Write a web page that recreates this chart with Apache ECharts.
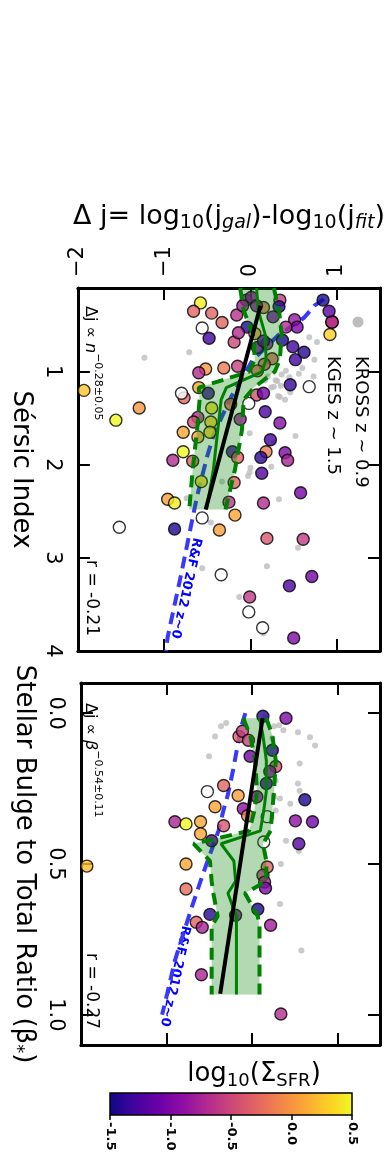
<!DOCTYPE html>
<html>
<head>
<meta charset="utf-8">
<script src="https://cdn.jsdelivr.net/npm/echarts@6/dist/echarts.min.js"></script>
<style>
  html, body { margin: 0; padding: 0; background: #fff; }
  #chart { width: 387px; height: 1156px; }
</style>
</head>
<body>
<div id="chart"></div>
<script>
// ---------- axis ticks ----------
const deltaJTicks = [-2, -1, 0, 1];
const sersicTicks = [1, 2, 3, 4];
const bulgeTicks = [0, 0.5, 1.0];
const sfrTicks = [-1.5, -1.0, -0.5, 0.0, 0.5];

// plasma colour map used for log10(Sigma_SFR)
const plasmaStops = ['#0d0887', '#41049d', '#6a00a8', '#8f0da4', '#b12a90', '#cc4778',
                     '#e16462', '#f2844b', '#fca636', '#fcce25', '#f0f921'];

// ---------- Sérsic-index panel ----------
// KGES galaxies: [delta j, Sérsic n, log10 Sigma_SFR]
const kgesSersic = [
  [-0.58,0.26,0.45],[-0.66,0.35,-0.30],[-0.45,0.37,-0.30],[-0.33,0.47,-0.30],[-0.48,0.64,-1.30],
  [-0.16,0.39,-0.65],[-0.05,0.23,-0.80],[0.01,0.20,-0.90],[0.15,0.31,-0.25],[-0.04,0.52,-1.45],
  [-0.19,0.68,-0.50],[0.34,0.23,-0.60],[0.33,0.30,-1.40],[0.26,0.41,-1.00],[0.51,0.44,-0.85],
  [0.54,0.52,-1.00],[0.41,0.52,-0.70],[0.37,0.66,-1.45],[0.49,0.73,-1.30],[0.62,0.79,-1.40],
  [0.52,0.87,-1.30],[0.84,0.23,-1.45],[0.91,0.35,-1.20],[0.92,0.60,0.30],[0.46,1.14,-1.35],
  [-0.52,0.97,0.00],[-0.31,0.96,-0.15],[-0.60,1.01,-0.70],[-0.15,0.94,-0.55],[-0.60,1.17,0.10],
  [-0.77,1.28,-0.30],[-0.49,1.23,-1.30],[0.07,1.25,-0.45],[0.15,1.23,-1.05],[0.17,1.43,-1.25],
  [0.34,1.55,-0.95],[-0.61,1.49,-0.65],[-0.66,1.54,-0.45],[-0.78,1.65,0.10],[-0.61,1.70,0.10],
  [-0.45,1.39,0.40],[-0.46,1.54,0.30],[-0.47,1.65,0.30],[-0.78,1.86,0.50],[-0.67,1.96,-0.35],
  [-0.90,1.95,-0.70],[-1.93,1.20,0.25],[-1.29,1.39,0.00],[-1.56,1.52,0.50],[0.23,1.73,-1.30],
  [0.18,1.86,-0.15],[0.12,1.92,-1.40],[0.40,1.87,-1.00],[0.43,1.95,-0.75],[0.13,2.09,-1.25],
  [-0.21,1.86,-1.30],[-0.15,1.92,-0.30],[-0.19,2.19,-0.30],[-0.57,2.18,0.35],[0.58,2.30,-1.05],
  [0.15,2.41,-0.70],[-0.25,2.40,-0.65],[-0.96,2.37,0.05],[-0.88,2.41,0.45],[-0.18,2.54,0.10],
  [-0.88,2.69,-1.45],[-0.36,2.70,0.05],[0.19,2.79,-0.40],[0.61,2.80,-0.60],[0.71,3.20,-1.05],
  [0.45,3.30,-1.25],[-0.01,3.42,-0.60],[0.50,3.86,-1.00],[-0.09,0.29,-0.80],[0.07,0.29,-0.90],
  [-0.14,0.58,-0.70],[0.05,0.59,0.00],[0.08,0.74,-1.00],[0.19,0.70,-0.90],[0.25,0.86,-0.30],
  [0.16,0.92,-0.35],[0.08,0.99,-0.30],[-0.23,1.35,-0.30],[-0.12,1.51,-0.80],[0.15,0.67,-1.20]
];
// KGES galaxies without a Sigma_SFR measurement: [delta j, n]
const kgesSersicNoSfr = [
  [-0.56,0.53],[0.68,1.16],[-0.80,1.23],[-0.02,1.34],[-0.56,2.57],[-1.52,2.67],
  [-0.34,3.18],[-0.02,3.58],[0.14,3.75]
];
// KROSS z~0.9 comparison sample: [delta j, n]
const krossSersic = [
  [-0.71,0.79],[-1.23,0.85],[0.68,0.63],[0.77,0.68],[0.74,0.87],[0.60,0.96],[0.73,1.05],
  [0.56,1.02],[0.41,0.99],[0.45,1.06],[0.29,1.09],[0.35,1.15],[0.24,1.17],[0.34,1.27],
  [0.17,1.09],[0.52,1.69],[-0.01,1.66],[0.24,2.02],[-0.03,2.12],[0.33,2.37],[0.55,2.89],
  [0.19,3.09],[-0.56,3.11],[-0.13,3.42],[0.15,3.81],[0.20,1.05],[0.27,1.16],[0.31,1.10],
  [0.36,1.03],[0.32,1.26],[0.15,0.73],[0.00,2.03],[-0.01,2.08],[0.27,1.76],[-0.33,2.18],
  [-0.74,2.36],[-0.46,2.62],[0.40,1.30],[0.10,1.20],[0.46,1.22]
];
// running median and 1-sigma spread of the KGES points
const sersicBandN   = [0.10, 0.34, 0.60, 0.87, 1.00, 1.17, 1.30, 1.63, 2.05, 2.48];
const sersicBandLo  = [-0.12,-0.08, 0.03, 0.05,-0.02,-0.60,-0.59,-0.62,-0.67,-0.71];
const sersicBandMed = [0.07, 0.09, 0.17, 0.18, 0.13,-0.28,-0.34,-0.38,-0.43,-0.51];
const sersicBandHi  = [0.27, 0.33, 0.36, 0.34, 0.28, 0.04,-0.08,-0.10,-0.18,-0.29];
// best-fit power law, end points [delta j, n]
const sersicFit = [[0.115, 0.29], [-0.52, 2.48]];
// Romanowsky & Fall (2012) z~0 relation: [delta j, n]
const rfSersic = [
  [0.85,0.22],[0.74,0.29],[0.62,0.42],[0.33,0.60],[0.02,0.88],[-0.23,1.28],[-0.42,1.66],
  [-0.50,1.90],[-0.62,2.34],[-0.73,2.84],[-0.80,3.16],[-0.96,3.85],[-0.98,4.0]
];

// ---------- bulge-to-total panel ----------
// KGES galaxies: [delta j, B/T, log10 Sigma_SFR]
const kgesBulge = [
  [0.40,0.017,-1.00],[-0.15,0.077,-0.35],[-0.11,0.060,-0.55],[-0.04,0.090,-0.55],[-0.02,0.143,-1.05],
  [0.24,0.123,-1.40],[0.28,0.177,-0.45],[0.21,0.193,-0.90],[0.17,0.233,-1.30],[-0.33,0.240,-0.30],
  [-0.16,0.273,0.05],[-0.43,0.310,0.10],[-0.10,0.317,-0.90],[-0.05,0.340,-0.10],[0.62,0.287,-1.45],
  [-0.90,0.360,-0.75],[-0.77,0.367,0.50],[-0.60,0.360,0.10],[-0.60,0.400,0.10],[-0.33,0.373,-0.40],
  [0.51,0.357,-0.90],[0.71,0.360,-1.05],[-0.47,0.423,-1.25],[0.55,0.433,-1.20],[-0.77,0.500,0.10],
  [0.18,0.510,-0.30],[-1.93,0.507,0.20],[-0.77,0.583,-0.25],[0.13,0.537,-0.55],[0.15,0.560,-0.75],
  [0.16,0.580,-1.00],[0.07,0.650,-1.45],[-0.49,0.667,-1.40],[-0.19,0.670,-0.95],[-0.65,0.693,-0.30],
  [-0.58,0.710,-0.75],[0.22,0.703,-0.80],[-0.59,0.867,-0.75],[0.34,0.997,-0.70],[0.13,0.010,-1.40],
  [0.06,0.277,-0.90]
];
const kgesBulgeNoSfr = [[-0.52,0.26],[0.18,0.343],[0.14,0.427]];
const krossBulge = [
  [-0.30,0.033],[-0.36,0.043],[-0.43,0.077],[-0.50,0.143],[0.54,0.063],[0.68,0.080],[0.74,0.107],
  [0.56,0.167],[0.54,0.233],[0.56,0.257],[0.45,0.300],[0.33,0.283],[0.28,0.223],[0.40,0.423],
  [0.32,0.040],[0.37,0.057],[0.15,0.010],[0.34,0.500],[0.33,0.633],[0.58,0.787],[0.55,0.457],
  [0.28,0.323],[0.24,0.083],[0.26,0.043],[0.26,0.277]
];
const bulgeBandB   = [0.017,0.073,0.157,0.257,0.323,0.390,0.433,0.490,0.557,0.597,0.673,0.707,0.933];
const bulgeBandLo  = [-0.10,-0.02, 0.04, 0.06, 0.03,-0.03,-0.68,-0.49,-0.47,-0.45,-0.40,-0.47,-0.47];
const bulgeBandMed = [0.09, 0.13, 0.17, 0.17, 0.14, 0.10,-0.36,-0.21,-0.19,-0.28,-0.18,-0.18,-0.18];
const bulgeBandHi  = [0.17, 0.24, 0.28, 0.26, 0.24, 0.22, 0.13, 0.17, 0.17,-0.08, 0.07, 0.09, 0.09];
const bulgeFit = [[0.126, 0.017], [-0.37, 0.93]];
const rfBulge = [
  [-0.075,0.0],[-0.13,0.05],[-0.22,0.19],[-0.28,0.27],[-0.33,0.32],[-0.39,0.39],[-0.53,0.50],
  [-0.58,0.54],[-0.71,0.65],[-0.80,0.73],[-0.90,0.82],[-0.99,0.93],[-1.05,1.0]
];

// ---------- styling helpers ----------
const FONT = 'DejaVu Sans';
const GREEN = '#008000';
const frameLine = { onZero: false, lineStyle: { color: '#000', width: 3 } };
const inTick = (vals) => ({ inside: true, length: 12, customValues: vals, lineStyle: { color: '#000', width: 2 } });
const minus = (v) => String(v).replace('-', '\u2212');

function pairs(ys, xs) { return ys.map((y, i) => [xs[i], y]); }

function bandSeries(xi, yi, ys, lo, hi) {
  return {
    type: 'custom', xAxisIndex: xi, yAxisIndex: yi, z: 4, clip: true, silent: true,
    data: [0],
    renderItem: (params, api) => {
      const pts = [];
      for (let i = 0; i < ys.length; i++) pts.push(api.coord([lo[i], ys[i]]));
      for (let i = ys.length - 1; i >= 0; i--) pts.push(api.coord([hi[i], ys[i]]));
      return { type: 'polygon', shape: { points: pts }, style: { fill: 'rgba(0,128,0,0.3)' } };
    }
  };
}
function lineSeries(xi, yi, data, style, z) {
  return { type: 'line', xAxisIndex: xi, yAxisIndex: yi, data, symbol: 'none', z, clip: true,
           silent: true, lineStyle: style };
}
function scatter(xi, yi, data, opts) {
  return Object.assign({ type: 'scatter', xAxisIndex: xi, yAxisIndex: yi, data, silent: true }, opts);
}

function panelSeries(xi, yi, kges, kgesOpen, kross, bandY, lo, med, hi, fit, rf) {
  return [
    scatter(xi, yi, kross, { symbolSize: 6, itemStyle: { color: '#bdbdbd' }, z: 1 }),
    lineSeries(xi, yi, rf, { color: '#3838ff', width: 4, type: [12, 7] }, 2),
    scatter(xi, yi, kges, { symbolSize: 12, itemStyle: { borderColor: '#000', borderWidth: 1.4 }, z: 3 }),
    scatter(xi, yi, kgesOpen, { symbolSize: 12, itemStyle: { color: '#fff', borderColor: '#000', borderWidth: 1.4 }, z: 3 }),
    bandSeries(xi, yi, bandY, lo, hi),
    lineSeries(xi, yi, pairs(bandY, lo), { color: GREEN, width: 4, type: [12, 7] }, 5),
    lineSeries(xi, yi, pairs(bandY, hi), { color: GREEN, width: 4, type: [12, 7] }, 5),
    lineSeries(xi, yi, pairs(bandY, med), { color: GREEN, width: 3 }, 5),
    lineSeries(xi, yi, fit, { color: '#000', width: 4 }, 6)
  ];
}

const series = [
  ...panelSeries(0, 0, kgesSersic, kgesSersicNoSfr, krossSersic,
                 sersicBandN, sersicBandLo, sersicBandMed, sersicBandHi, sersicFit, rfSersic),
  ...panelSeries(2, 2, kgesBulge, kgesBulgeNoSfr, krossBulge,
                 bulgeBandB, bulgeBandLo, bulgeBandMed, bulgeBandHi, bulgeFit, rfBulge),
  {
    // colour bar
    type: 'custom', xAxisIndex: 4, yAxisIndex: 4, silent: true, data: [0],
    renderItem: (params, api) => {
      const p0 = api.coord([sfrTicks[0], 1]);
      const p1 = api.coord([sfrTicks[sfrTicks.length - 1], 0]);
      return {
        type: 'rect',
        shape: { x: p0[0], y: p0[1], width: p1[0] - p0[0], height: p1[1] - p0[1] },
        style: {
          fill: new echarts.graphic.LinearGradient(0, 0, 1, 0,
            plasmaStops.map((c, i) => ({ offset: i / (plasmaStops.length - 1), color: c }))),
          stroke: '#000', lineWidth: 1.5
        }
      };
    }
  }
];

const richMain = {
  a: { fontFamily: FONT, fontSize: 27, color: '#000', verticalAlign: 'top', padding: [0, 0, 3, 0] },
  b: { fontFamily: FONT, fontSize: 19, color: '#000', verticalAlign: 'bottom' },
  c: { fontFamily: FONT, fontSize: 19, color: '#000', verticalAlign: 'bottom', fontStyle: 'italic' }
};

const plainAxis = (grid, pos, min, max, vals, inverse) => ({
  type: 'value', gridIndex: grid, position: pos, min, max, inverse: !!inverse,
  axisLine: frameLine, axisTick: inTick(vals), axisLabel: { show: false }, splitLine: { show: false }
});

const xAxis = [
  {
    type: 'value', gridIndex: 0, position: 'top', min: -2, max: 1.5,
    axisLine: frameLine, axisTick: inTick(deltaJTicks), splitLine: { show: false },
    axisLabel: { customValues: deltaJTicks, rotate: -90, margin: 11, fontFamily: FONT, fontSize: 21,
                 color: '#000', formatter: minus },
    name: '{a|\u0394 j= log}{b|10}{a|(j}{c|gal}{a|)-log}{b|10}{a|(j}{c|fit}{a|)}',
    nameLocation: 'middle', nameGap: 55, nameTextStyle: { rich: richMain }
  },
  plainAxis(0, 'bottom', -2, 1.5, deltaJTicks),
  plainAxis(1, 'top', -2, 1.5, deltaJTicks),
  plainAxis(1, 'bottom', -2, 1.5, deltaJTicks),
  {
    type: 'value', gridIndex: 2, position: 'bottom', min: -1.5, max: 0.5,
    axisLine: { show: false, onZero: false },
    axisTick: { inside: false, length: 5, customValues: sfrTicks, lineStyle: { color: '#000', width: 1.5 } },
    axisLabel: { customValues: sfrTicks, rotate: -90, margin: 7, fontFamily: FONT, fontSize: 13,
                 fontWeight: 'bold', color: '#000', formatter: (v) => v.toFixed(1) },
    splitLine: { show: false }
  },
  {
    type: 'value', gridIndex: 2, position: 'top', min: -1.5, max: 0.5,
    axisLine: { show: false, onZero: false }, axisTick: { show: false }, axisLabel: { show: false },
    splitLine: { show: false },
    name: '{a|log}{b|10}{a|(\u03a3}{b|SFR}{a|)}', nameLocation: 'middle', nameGap: 3,
    nameTextStyle: {
      padding: [0, 0, 0, 46],
      rich: {
        a: { fontFamily: FONT, fontSize: 26, color: '#000', verticalAlign: 'top', padding: [0, 0, 3, 0] },
        b: { fontFamily: FONT, fontSize: 18, color: '#000', verticalAlign: 'bottom' }
      }
    }
  }
];

const yAxis = [
  {
    type: 'value', gridIndex: 0, position: 'left', min: 0.1, max: 4, inverse: true,
    axisLine: frameLine, axisTick: inTick(sersicTicks), splitLine: { show: false },
    axisLabel: { customValues: sersicTicks, rotate: -90, margin: 15, fontFamily: FONT, fontSize: 21, color: '#000' },
    name: 'S\u00e9rsic Index', nameLocation: 'middle', nameRotate: -90, nameGap: 24,
    nameTextStyle: { fontFamily: FONT, fontSize: 26, color: '#000' }
  },
  plainAxis(0, 'right', 0.1, 4, sersicTicks, true),
  {
    type: 'value', gridIndex: 1, position: 'left', min: -0.1, max: 1.1, inverse: true,
    axisLine: frameLine, axisTick: inTick(bulgeTicks), splitLine: { show: false },
    axisLabel: { customValues: bulgeTicks, rotate: -90, margin: 15, fontFamily: FONT, fontSize: 21,
                 color: '#000', formatter: (v) => v.toFixed(1) },
    name: '{a|Stellar Bulge to Total Ratio (\u03b2}{b|*}{a|)}', nameLocation: 'middle', nameRotate: -90, nameGap: 24,
    nameTextStyle: {
      rich: {
        a: { fontFamily: FONT, fontSize: 26, color: '#000', verticalAlign: 'top', padding: [0, 0, 3, 0] },
        b: { fontFamily: FONT, fontSize: 18, color: '#000', verticalAlign: 'bottom' }
      }
    }
  },
  plainAxis(1, 'right', -0.1, 1.1, bulgeTicks, true),
  { type: 'value', gridIndex: 2, min: 0, max: 1, show: false }
];

// rotated in-panel annotations
const CW = -Math.PI / 2;
const richPower = {
  m: { fontFamily: FONT, fontSize: 16, color: '#000', verticalAlign: 'bottom', padding: [5, 0, 0, 0] },
  i: { fontFamily: FONT, fontSize: 16, color: '#000', fontStyle: 'italic', verticalAlign: 'bottom', padding: [5, 0, 0, 0] },
  s: { fontFamily: FONT, fontSize: 11, color: '#000', verticalAlign: 'top' }
};
const rotText = (x, y, text, extra) => ({
  type: 'text', x, y, rotation: CW, silent: true,
  style: Object.assign({ text, fontFamily: FONT, fontSize: 17, fill: '#000', align: 'left', verticalAlign: 'middle' }, extra || {})
});

const graphic = [
  { type: 'circle', shape: { cx: 358, cy: 322, r: 5.5 }, style: { fill: '#bdbdbd' }, silent: true },
  { type: 'circle', shape: { cx: 332, cy: 322, r: 6.3 }, style: { fill: '#b83289', stroke: '#000', lineWidth: 1.4 }, silent: true },
  rotText(361, 356, 'KROSS z ~ 0.9', { fontSize: 18 }),
  rotText(333, 356, 'KGES z ~ 1.5', { fontSize: 18 }),
  rotText(93, 306, '{m|\u0394j \u221d }{i|n}{s|\u22120.28\u00b10.05}', { rich: richPower }),
  rotText(91, 560, 'r = -0.21'),
  rotText(93, 703, '{m|\u0394j \u221d }{i|\u03b2}{s|\u22120.54\u00b10.11}', { rich: richPower }),
  rotText(91, 953, 'r = -0.27'),
  { type: 'text', x: 186, y: 588, rotation: -1.787, silent: true,
    style: { text: 'R&F 2012 z~0', fontFamily: FONT, fontSize: 13, fontWeight: 'bold', fill: '#0000ff', align: 'center', verticalAlign: 'middle' } },
  { type: 'text', x: 175, y: 976, rotation: -1.784, silent: true,
    style: { text: 'R&F 2012 z~0', fontFamily: FONT, fontSize: 13, fontWeight: 'bold', fill: '#0000ff', align: 'center', verticalAlign: 'middle' } }
];

const chart = echarts.init(document.getElementById('chart'), null, { renderer: 'canvas' });
chart.setOption({
  animation: false,
  backgroundColor: '#fff',
  grid: [
    { left: 68, top: 288, width: 312, height: 363 },
    { left: 68, top: 683, width: 312, height: 362 },
    { left: 110, top: 1093, width: 242, height: 22 }
  ],
  xAxis, yAxis,
  visualMap: {
    type: 'continuous', show: false, min: -1.5, max: 0.5, dimension: 2,
    seriesIndex: [2, 11], inRange: { color: plasmaStops }
  },
  series,
  graphic
});
</script>
</body>
</html>
